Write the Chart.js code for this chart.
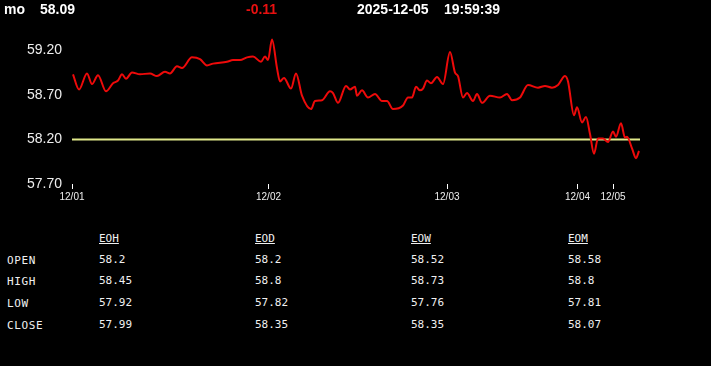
<!DOCTYPE html>
<html>
<head>
<meta charset="utf-8">
<script src="https://cdn.jsdelivr.net/npm/chart.js@4.4.1/dist/chart.umd.min.js"></script>
<style>
  html, body { margin:0; padding:0; background:#000; }
  body { width:711px; height:366px; position:relative; overflow:hidden; color:#f2f2f2; }
  .hdr { position:absolute; top:1px; font:bold 14px "Liberation Sans", Arial, sans-serif; color:#fff; }
  #chartBox { position:absolute; left:0; top:14px; width:711px; height:211px; }
  .cell { position:absolute; font:11px "DejaVu Sans Mono", monospace; color:#f0f0f0; white-space:nowrap; }
  .cell.head { text-decoration:underline; }
  .cell.label { letter-spacing:0.6px; }
</style>
</head>
<body>
<div id="chartBox"><canvas id="c"></canvas></div>
<div class="hdr" id="hName" style="left:4px"></div>
<div class="hdr" id="hLast" style="left:40px"></div>
<div class="hdr" id="hChg" style="left:246px;color:#e81010"></div>
<div class="hdr" id="hDate" style="left:357px"></div>
<div class="hdr" id="hTime" style="left:444px"></div>
<div id="table"></div>
<script>
// header
const symbol = 'mo';
const lastPrice = '58.09';
const change = '-0.11';
const quoteDate = '2025-12-05';
const quoteTime = '19:59:39';

// price line: position along the session axis and the price there
const pricePos = [1,7,15,20,26,34,41,46,50,54,60,68,78,85,93,98,105,110,120,128,135,141,155,161,168,175,181,189,193,196,200,205,208,212,219,224,230,239,243,250,258,261,266,274,278,283,285,290,296,303,310,315,321,331,336,340,344,348,351,355,359,365,371,378,383,386,391,395,401,405,410,418,428,435,440,448,456,466,473,480,486,493,496,502,505,510,514,518,522,526,531,536,541,544,549,553,555,560,564,567];
const prices = [58.93,58.76,58.94,58.82,58.92,58.74,58.83,58.86,58.93,58.88,58.95,58.93,58.94,58.91,58.96,58.94,59.02,59.00,59.12,59.10,59.03,59.05,59.07,59.09,59.09,59.12,59.13,59.07,59.13,59.09,59.32,59.00,58.85,58.89,58.77,58.94,58.69,58.54,58.63,58.64,58.74,58.72,58.61,58.80,58.76,58.79,58.69,58.75,58.67,58.71,58.63,58.63,58.54,58.58,58.67,58.67,58.79,58.75,58.77,58.86,58.83,58.90,58.82,59.18,58.95,58.91,58.67,58.72,58.63,58.71,58.61,58.69,58.67,58.71,58.64,58.67,58.81,58.78,58.80,58.78,58.81,58.91,58.85,58.47,58.56,58.39,58.45,58.26,58.04,58.21,58.21,58.17,58.29,58.23,58.38,58.22,58.23,58.10,57.99,58.07];

// reference level
const refLevel = 58.2;
const axisEnd = 568;

// axis ticks
const yTicks = [57.7, 58.2, 58.7, 59.2];
const xTickPos = [0, 196.5, 375, 505.5, 541];
const xTickLabels = ['12/01', '12/02', '12/03', '12/04', '12/05'];

// summary table
const tableRows = ['OPEN', 'HIGH', 'LOW', 'CLOSE'];
const tableCols = ['EOH', 'EOD', 'EOW', 'EOM'];
const eoh = ['58.2', '58.45', '57.92', '57.99'];
const eod = ['58.2', '58.8', '57.82', '58.35'];
const eow = ['58.52', '58.73', '57.76', '58.35'];
const eom = ['58.58', '58.8', '57.81', '58.07'];

document.getElementById('hName').textContent = symbol;
document.getElementById('hLast').textContent = lastPrice;
document.getElementById('hChg').textContent = change;
document.getElementById('hDate').textContent = quoteDate;
document.getElementById('hTime').textContent = quoteTime;

// table layout
const colX = [99, 255, 411, 568];
const rowY = [253, 274, 296, 318];
const table = document.getElementById('table');
function addCell(txt, x, y, cls){
  const el = document.createElement('div');
  el.className = 'cell' + (cls ? ' ' + cls : '');
  el.textContent = txt;
  el.style.left = x + 'px';
  el.style.top = y + 'px';
  table.appendChild(el);
}
tableCols.forEach((c, i) => addCell(c, colX[i], 232, 'head'));
const colVals = [eoh, eod, eow, eom];
tableRows.forEach((r, j) => {
  addCell(r, 7, rowY[j] + 1, 'label');
  colVals.forEach((vals, i) => addCell(vals[j], colX[i], rowY[j]));
});

new Chart(document.getElementById('c'), {
  type: 'line',
  data: {
    datasets: [
      {
        data: [{x:0, y:refLevel}, {x:axisEnd, y:refLevel}],
        borderColor: '#dfe88a',
        borderWidth: 2,
        pointRadius: 0,
        order: 2
      },
      {
        data: pricePos.map((p, i) => ({x:p, y:prices[i]})),
        borderColor: '#ee0a0a',
        borderWidth: 2,
        pointRadius: 0,
        tension: 0.4,
        cubicInterpolationMode: 'monotone',
        order: 1
      }
    ]
  },
  options: {
    responsive: true,
    maintainAspectRatio: false,
    animation: false,
    layout: { padding: { top: 5, right: 71, left: 0, bottom: 0 } },
    plugins: { legend: { display: false }, tooltip: { enabled: false } },
    scales: {
      x: {
        type: 'linear',
        min: 0,
        max: axisEnd,
        afterBuildTicks: s => { s.ticks = xTickPos.map(v => ({value: v})); },
        afterFit: s => { s.height = 41; },
        grid: { display: true, drawOnChartArea: false, drawTicks: true, tickLength: 5, color: '#fff' },
        border: { display: false },
        ticks: {
          color: '#eee',
          font: { family: 'Liberation Sans, Arial', size: 10 },
          padding: 2,
          maxRotation: 0,
          autoSkip: false,
          callback: (v, i) => xTickLabels[i]
        }
      },
      y: {
        min: 57.7,
        max: 59.4,
        afterBuildTicks: s => { s.ticks = yTicks.map(v => ({value: v})); },
        afterFit: s => { s.width = 72; },
        grid: { display: false, drawTicks: false },
        border: { display: false },
        ticks: {
          color: '#eee',
          font: { family: 'Liberation Sans, Arial', size: 14 },
          padding: 10,
          callback: v => v.toFixed(2)
        }
      }
    }
  }
});
</script>
</body>
</html>
